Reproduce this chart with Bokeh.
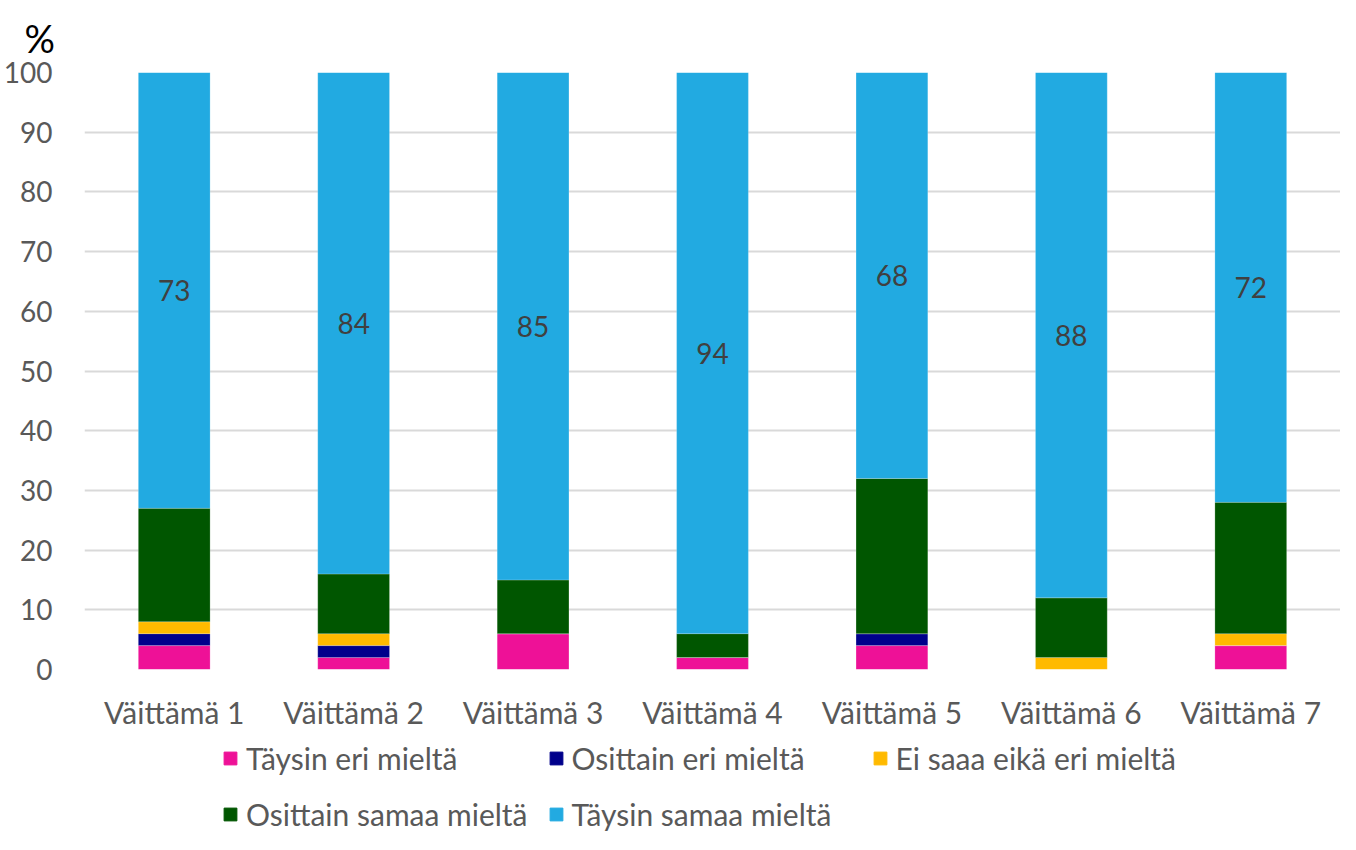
from bokeh.plotting import figure
from bokeh.layouts import column
from bokeh.models import ColumnDataSource, Range1d, Legend, LegendItem, LabelSet, FixedTicker, Title
from bokeh.core.properties import value
from bokeh.embed import file_html
from bokeh.resources import INLINE

categories = ["Väittämä 1", "Väittämä 2", "Väittämä 3", "Väittämä 4", "Väittämä 5", "Väittämä 6", "Väittämä 7"]
taysin_eri = [4, 2, 6, 2, 4, 0, 4]
osittain_eri = [2, 2, 0, 0, 2, 0, 0]
ei_saa = [2, 2, 0, 0, 0, 2, 2]
osittain_samaa = [19, 10, 9, 4, 26, 10, 22]
taysin_samaa = [73, 84, 85, 94, 68, 88, 72]

series_names = ["Täysin eri mieltä", "Osittain eri mieltä", "Ei saaa eikä eri mieltä",
                "Osittain samaa mieltä", "Täysin samaa mieltä"]
keys = ["s1", "s2", "s3", "s4", "s5"]
colors = ["#EE1197", "#00008B", "#FFBA00", "#005600", "#22AAE1"]

FONT = "Lato"
GRAY = "#595959"

data = dict(cat=categories, s1=taysin_eri, s2=osittain_eri, s3=ei_saa, s4=osittain_samaa, s5=taysin_samaa)
base = [a + b + c + d for a, b, c, d in zip(taysin_eri, osittain_eri, ei_saa, osittain_samaa)]
data["label_y"] = [b + v / 2 for b, v in zip(base, taysin_samaa)]
data["label_txt"] = [str(v) for v in taysin_samaa]
src = ColumnDataSource(data)

p = figure(x_range=categories, y_range=Range1d(0, 100), frame_width=1256, frame_height=597,
           output_backend="svg", toolbar_location=None,
           min_border_left=82, min_border_top=72, min_border_right=0, min_border_bottom=0)

p.vbar_stack(keys, x="cat", width=0.4, color=colors, source=src,
             line_color="white", line_alpha=0.4, line_width=0.5)

labels = LabelSet(x="cat", y="label_y", text="label_txt", source=src,
                  text_align="center", text_baseline="middle",
                  text_font=value(FONT), text_font_size="28px", text_color="#404040")
p.add_layout(labels)

p.outline_line_color = None
p.background_fill_color = "white"
p.border_fill_color = "white"

p.yaxis.ticker = FixedTicker(ticks=list(range(0, 101, 10)))
p.yaxis.axis_line_color = None
p.yaxis.major_tick_line_color = None
p.yaxis.minor_tick_line_color = None
p.yaxis.major_label_text_font = FONT
p.yaxis.major_label_text_font_size = "28px"
p.yaxis.major_label_text_color = GRAY
p.yaxis.major_label_standoff = 26

p.xaxis.axis_line_color = None
p.xaxis.major_tick_line_color = None
p.xaxis.minor_tick_line_color = None
p.xaxis.major_label_text_font = FONT
p.xaxis.major_label_text_font_size = "30px"
p.xaxis.major_label_text_color = GRAY
p.xaxis.major_label_standoff = 18

p.xgrid.grid_line_color = None
p.ygrid.grid_line_color = "#D9D9D9"
p.ygrid.grid_line_width = 2

p.title = Title(text="%", align="left", offset=-60, standoff=24, text_font=FONT,
                text_font_size="38px", text_color="#000000", text_font_style="normal")

# legend figure: same stacked bars, kept outside its visible range, so only the legend shows
lg = figure(x_range=categories, y_range=Range1d(200, 300), width=1338, height=100,
            output_backend="svg", toolbar_location=None,
            x_axis_type=None, y_axis_type=None,
            min_border_left=82, min_border_top=0, min_border_right=0, min_border_bottom=0)
lg.outline_line_color = None
lg.xgrid.visible = False
lg.ygrid.visible = False
lg.background_fill_color = "white"
lg.border_fill_color = "white"
leg_renderers = lg.vbar_stack(keys, x="cat", width=0.4, color=colors, source=src)

leg = Legend(items=[LegendItem(label=series_names[i], renderers=[leg_renderers[i]]) for i in range(5)],
             orientation="horizontal", ncols=3, location=(138, 0),
             border_line_color=None, background_fill_alpha=0,
             label_text_font=FONT, label_text_font_size="30px", label_text_color=GRAY,
             glyph_width=16, glyph_height=16, label_standoff=8, padding=0,
             label_height=35, label_width=280, spacing=20, margin=0)
lg.add_layout(leg, "center")

layout = column(p, lg, spacing=0)
open("out.html", "w").write(file_html(layout, INLINE))
